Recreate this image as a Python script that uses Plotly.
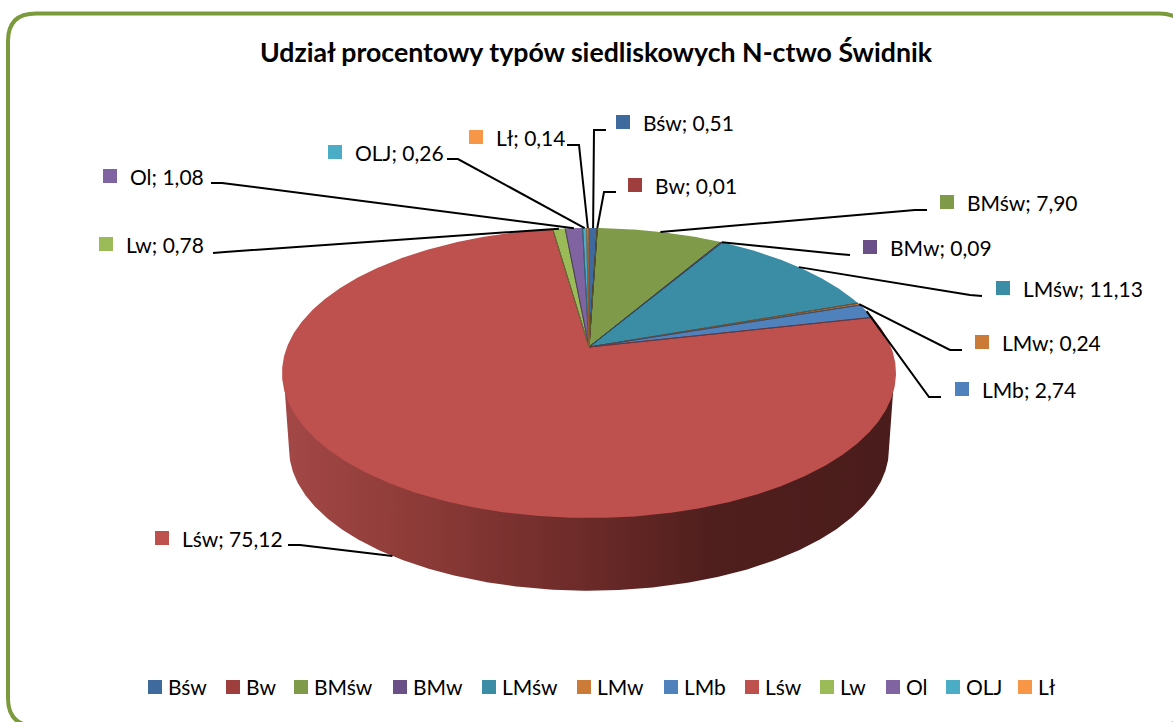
import numpy as np
import plotly.graph_objects as go

categories = ["Bśw", "Bw", "BMśw", "BMw", "LMśw", "LMw", "LMb", "Lśw", "Lw", "Ol", "OLJ", "Lł"]
# values printed on the data labels
values = [0.51, 0.01, 7.90, 0.09, 11.13, 0.24, 2.74, 75.12, 0.78, 1.08, 0.26, 0.14]
# slice shares (LMb is drawn narrower than its label says)
drawn_shares = [0.51, 0.01, 7.90, 0.09, 11.13, 0.24, 1.60, 76.26, 0.78, 1.08, 0.26, 0.14]
colors = ["#3e6a9e", "#9e3f3d", "#7f9a48", "#6b5087", "#3b8ca5", "#cb7a37",
          "#4f81bd", "#be504e", "#9bbb59", "#8064a2", "#4bacc6", "#f79646"]
title = "Udział procentowy typów siedliskowych N-ctwo Świdnik"

# layout: label square position (x, y) and leader-line knee points, in page pixels
label_pos = {
    "Bśw": (623, 122), "Bw": (635, 185), "BMśw": (947, 202), "BMw": (870, 247),
    "LMśw": (1003, 288), "LMw": (982, 342), "LMb": (962, 389), "Lśw": (162, 538),
    "Lw": (106, 244), "Ol": (110, 176), "OLJ": (335, 152), "Lł": (476, 137),
}
leader_knee = {
    "Bśw": ((606, 130), (594, 130)), "Bw": ((616, 192), (604, 192)),
    "BMśw": ((927, 210), (915, 210)), "BMw": ((850, 255), (838, 254)),
    "LMśw": ((982, 296), (970, 295)), "LMw": ((962, 350), (950, 350)),
    "LMb": ((941, 397), (929, 397)), "Lśw": ((288, 545), (300, 545)),
    "Lw": ((213, 253), (225, 252)), "Ol": ((211, 183), (222, 183)),
    "OLJ": ((447, 159), (458, 159)), "Lł": ((567, 145), (579, 145)),
}
legend_square_x = [155, 233, 301, 400, 489, 584, 671, 752, 827, 893, 953, 1025]
legend_text_x = [168, 246, 314, 413, 502, 597, 684, 765, 840, 906, 966, 1038]
LEGEND_Y = 687

FONT = "Lato"
CX, CY, RX, RY, APEX = 589.0, 373.0, 307.0, 145.0, 26.0
E = APEX * 2 / (2 * RY)
D = RX * np.sqrt(1 - E ** 2)
BOT_CY, BOT_S = 449.0, 0.977


def rim(theta):
    """Perspective projection of the pie disc's unit circle (clockwise from top)."""
    u, v = np.sin(theta), np.cos(theta)
    w = 1 + E * v
    return D * u / w, (RY * v + APEX) / w


def dark(hex_color, f=0.62):
    r, g, b = (int(hex_color[i:i + 2], 16) for i in (1, 3, 5))
    return f"rgb({int(r * f)},{int(g * f)},{int(b * f)})"


total = sum(drawn_shares)
edges = np.cumsum([0] + drawn_shares) / total * 2 * np.pi
apex_x, apex_y = CX, CY - APEX

fig = go.Figure()

# front wall of the largest slice (its top edge tucked just under the top face)
big = categories.index("Lśw")
th = np.linspace(edges[big], edges[big + 1], 500)
X, Y = rim(th)
i_r, i_l = int(np.argmax(X)), int(np.argmin(X))
xt, yt = CX + 0.995 * X[i_r:i_l + 1], CY - 0.99 * Y[i_r:i_l + 1]
xb, yb = CX + BOT_S * X[i_r:i_l + 1], BOT_CY - BOT_S * Y[i_r:i_l + 1]
fig.add_trace(go.Scatter(
    x=np.r_[xt, xb[::-1]], y=np.r_[yt, yb[::-1]], mode="lines", fill="toself",
    line=dict(width=0), showlegend=False, hoverinfo="skip",
    fillgradient=dict(type="horizontal", colorscale=[
        [0, "#a34846"], [0.2, "#8f3c39"], [0.5, "#6b2a28"], [0.7, "#4f1f1d"], [1, "#4a1c1b"]]),
))

# top faces
for i, name in enumerate(categories):
    th = np.linspace(edges[i], edges[i + 1], max(3, int(drawn_shares[i] * 8)))
    X, Y = rim(th)
    px, py = CX + X, CY - Y
    fig.add_trace(go.Scatter(
        x=np.r_[apex_x, px, apex_x], y=np.r_[apex_y, py, apex_y], mode="lines", fill="toself",
        fillcolor=colors[i], line=dict(width=0), showlegend=False, name=name,
        text=f"{name}: {values[i]}", hoverinfo="text",
    ))
for i, name in enumerate(categories):
    X, Y = rim(np.array([edges[i], edges[i + 1]]))
    fig.add_trace(go.Scatter(
        x=[CX + X[0], apex_x, CX + X[1]], y=[CY - Y[0], apex_y, CY - Y[1]], mode="lines",
        line=dict(width=1, color=dark(colors[i])), showlegend=False, hoverinfo="skip",
    ))

# leader lines, ending at each slice's rim midpoint
for i, name in enumerate(categories):
    X, Y = rim(np.array([(edges[i] + edges[i + 1]) / 2]))
    if name == "Lśw":
        ax, ay = CX + BOT_S * X[0], BOT_CY - BOT_S * Y[0]
    else:
        ax, ay = CX + X[0], CY - Y[0]
    k0, k1 = leader_knee[name]
    fig.add_trace(go.Scatter(
        x=[k0[0], k1[0], ax], y=[k0[1], k1[1], ay], mode="lines",
        line=dict(width=2, color="#000000"), showlegend=False, hoverinfo="skip",
    ))

# data labels and legend: swatches and text
fig.add_trace(go.Scatter(
    x=[label_pos[c][0] for c in categories], y=[label_pos[c][1] for c in categories],
    mode="markers", marker=dict(symbol="square", size=14, color=colors, line=dict(width=0)),
    showlegend=False, hoverinfo="skip",
))
fig.add_trace(go.Scatter(
    x=legend_square_x, y=[LEGEND_Y] * len(categories),
    mode="markers", marker=dict(symbol="square", size=14, color=colors, line=dict(width=0)),
    showlegend=False, hoverinfo="skip",
))
annotations = []
for c, v in zip(categories, values):
    lx, ly = label_pos[c]
    annotations.append(dict(
        x=lx + 18, y=ly, xref="x", yref="y", xanchor="left", yanchor="middle", showarrow=False,
        text=f"{c}; {v:.2f}".replace(".", ","), font=dict(family=FONT, size=21, color="#000000"),
    ))
for c, tx in zip(categories, legend_text_x):
    annotations.append(dict(
        x=tx - 2, y=LEGEND_Y - 1, xref="x", yref="y", xanchor="left", yanchor="middle", showarrow=False,
        text=c, font=dict(family=FONT, size=21, color="#000000"),
    ))

border = ("M 8 41 Q 8 13.5 36 13.5 L 1159 13.5 Q 1187 13.5 1187 41 L 1187 698 "
          "Q 1187 726 1159 726 L 36 726 Q 8 726 8 698 Z")

fig.update_layout(
    width=1173, height=722, margin=dict(l=0, r=0, t=0, b=0, pad=0),
    paper_bgcolor="#ffffff", plot_bgcolor="#ffffff",
    title=dict(text=f"<b>{title}</b>", x=596 / 1173, y=1 - 53 / 722, xanchor="center", yanchor="middle",
               font=dict(family=FONT, size=26.7, color="#000000")),
    xaxis=dict(range=[0, 1173], visible=False, fixedrange=True),
    yaxis=dict(range=[722, 0], visible=False, fixedrange=True),
    showlegend=False,
    annotations=annotations,
    shapes=[dict(type="path", path=border, xref="x", yref="y", line=dict(color="#7a9a3c", width=4),
                 fillcolor="rgba(0,0,0,0)", layer="above")],
)
fig.write_html("out.html", config={"displayModeBar": False},
               post_script="document.body.style.margin='0';document.body.style.overflow='hidden';")
